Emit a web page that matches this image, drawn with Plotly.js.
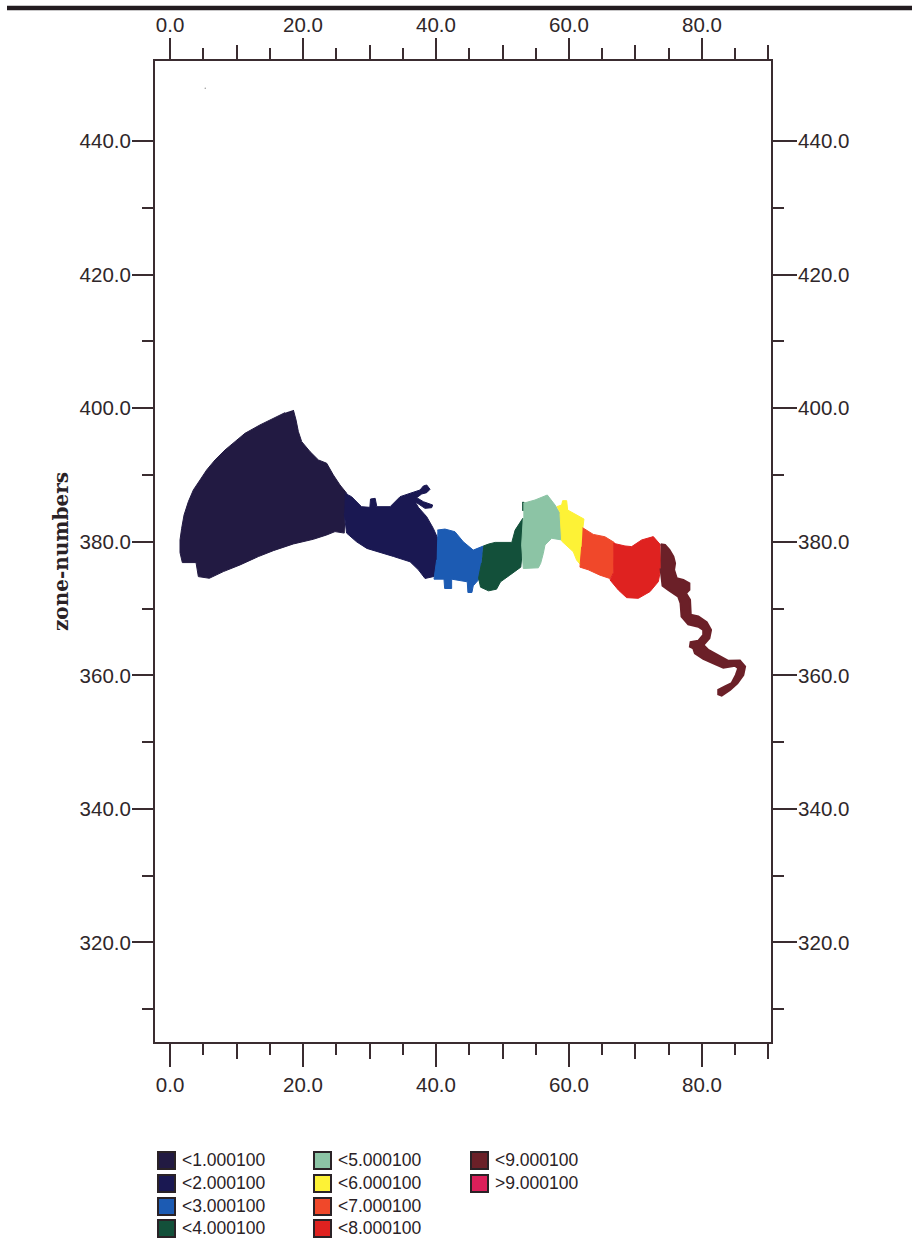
<!DOCTYPE html>
<html><head><meta charset="utf-8">
<script src="https://cdn.plot.ly/plotly-3.0.1.min.js"></script>
<style>html,body{margin:0;padding:0;background:#fff}</style></head>
<body><div id="chart" style="width:912px;height:1241px"></div>
<script>
const legendLabels = ["<1.000100","<2.000100","<3.000100","<4.000100","<5.000100","<6.000100","<7.000100","<8.000100","<9.000100",">9.000100"];
const zoneColors = ["#221a42","#1a1852","#1c5bb3","#13503a","#8cc4a5","#fdf236","#f0482a","#df2220","#6b2028","#dc1f5a"];
const zoneEdgeWidths = [1,1,1,1,1,1,1,1,2.2,1];

const zone1x = [18.55,18.95,19.3,19.8,21.05,22.31,23.56,24.56,25.56,26.57,26.3,26.2,24.81,23.56,21.55,18.55,15.54,13.28,10.53,8.02,5.91,4.26,3.91,1.85,1.5,1.5,1.75,2.11,2.76,3.51,4.51,5.51,6.77,8.27,9.77,11.28,13.53,15.54,17.29];
const zone1y = [399.73,398.24,396.49,394.99,393.5,392.25,391.75,390.0,388.5,387.26,384.25,381.3,381.52,381.02,380.37,379.67,378.67,377.78,376.53,375.53,374.53,374.78,376.88,376.88,378.38,380.27,382.02,384.01,386.01,387.76,389.25,390.75,392.25,393.74,394.99,396.24,397.49,398.49,399.33];
const zone2x = [26.3,27.3,28.8,30.05,30.15,30.85,31.1,33.1,34.6,35.85,37.6,38.1,38.6,39.1,38.6,37.85,37.1,38.1,39.5,39.35,38.35,36.85,37.35,38.6,39.6,40.35,40.5,39.7,38.35,37.35,36.1,33.6,31.1,29.6,28.05,26.55,26.2];
const zone2y = [387.25,386.75,385.25,385.15,386.4,386.5,385.25,385.25,386.75,387.15,387.75,388.35,388.5,387.85,387.35,387.15,386.6,386.0,385.5,385.1,385.0,386.0,385.15,383.75,382.0,380.3,378.3,374.8,374.5,375.8,377.0,377.8,378.5,379.0,380.0,381.3,384.25];
const zone3x = [40.2,41.35,42.85,44.1,45.6,47.1,46.85,46.4,45.6,45.4,44.8,44.7,42.35,42.35,41.3,41.2,39.7,40.1];
const zone3y = [381.75,381.9,381.5,380.0,378.75,379.35,376.8,374.3,373.4,372.4,372.4,374.0,374.4,373.0,373.0,374.4,374.4,377.3];
const zone4x = [47.1,47.9,48.9,51.4,51.9,53.05,53.05,52.75,51.1,49.7,49.1,47.9,46.7,46.4,46.85,null,52.95,53.25,53.25,52.95];
const zone4y = [379.35,379.65,379.9,379.9,381.75,383.5,379.3,376.2,375.0,374.0,372.9,372.65,373.2,374.55,376.8,null,385.9,385.9,384.7,384.7];
const zone5x = [53.13,54.89,56.74,57.9,58.65,58.9,57.4,56.39,56.14,55.74,55.39,53.13,52.88,53.13];
const zone5y = [385.76,386.25,387.0,385.5,384.26,380.27,380.52,379.52,378.27,376.77,376.1,376.0,379.52,383.51];
const zone6x = [58.15,58.9,59.05,59.65,59.8,62.25,62.05,61.8,61.15,60.65,58.9,58.65];
const zone6y = [385.25,385.5,386.15,386.15,384.75,383.4,381.75,376.5,377.25,378.5,380.1,384.26];
const zone7x = [62.05,63.65,65.4,66.8,66.65,66.15,64.65,62.9,61.65,61.9];
const zone7y = [382.1,381.1,380.75,379.9,375.3,374.5,375.0,375.8,376.2,379.25];
const zone8x = [66.67,68.42,69.43,70.93,72.68,73.69,73.8,73.44,72.18,70.43,68.67,67.42,66.17,66.65];
const zone8y = [379.77,379.37,379.27,380.27,380.77,379.62,376.0,374.03,372.53,371.53,371.63,372.78,374.28,375.3];
const zone9x = [73.78,74.44,75.09,75.69,75.94,75.79,76.19,77.19,78.09,78.09,77.59,78.19,78.3,79.45,80.7,81.35,81.1,80.2,80.95,82.45,83.96,85.7,86.47,86.2,85.31,84.21,82.96,82.46,82.46,83.46,84.46,85.11,85.46,84.96,83.21,81.7,80.2,78.95,78.7,78.2,78.3,79.45,80.2,80.2,79.45,77.94,76.94,76.79,76.44,74.94,74.08,73.78];
const zone9y = [379.62,379.52,378.77,377.78,376.78,375.78,374.53,374.28,373.78,372.79,372.29,371.29,369.04,368.8,367.95,366.8,365.55,364.55,363.8,362.95,362.16,362.2,361.3,360.06,358.8,357.82,356.97,357.17,357.82,358.32,358.8,360.06,361.06,361.46,361.16,361.8,362.46,363.3,364.05,364.3,364.95,365.15,366.05,366.8,367.3,367.65,368.8,370.79,371.79,372.79,373.43,376.03];
const zone10x = [];
const zone10y = [];
const specX = [5.3];
const specY = [447.9];

const xMediumTicks = [10,30,50,70,90];
const yMinorTicks = [310,330,350,370,390,410,430];

const W = 912, H = 1241, L = 155, R = 771, T = 61, B = 1042;
const ink = "#3a2c30";
const xRange = [-2.26, 90.38], yRange = [305.1, 451.98];
const tickFont = {family:"Liberation Sans", size:20.5, color:"#2f272a"};

const zones = [[zone1x,zone1y],[zone2x,zone2y],[zone3x,zone3y],[zone4x,zone4y],[zone5x,zone5y],[zone6x,zone6y],[zone7x,zone7y],[zone8x,zone8y],[zone9x,zone9y],[zone10x,zone10y]];
const traces = zones.map((z,i)=>({x:z[0],y:z[1],type:"scatter",mode:"lines",fill:"toself",fillcolor:zoneColors[i],line:{color:zoneColors[i],width:zoneEdgeWidths[i]},name:legendLabels[i],showlegend:false,hoverinfo:"name"}));
traces.push({x:specX,y:specY,type:"scatter",mode:"markers",marker:{size:1.5,color:"#999"},showlegend:false,hoverinfo:"skip"});
[["x2","y2"],["x3","y"],["x4","y"]].forEach(a=>traces.push({x:[null],y:[null],xaxis:a[0],yaxis:a[1],type:"scatter",mode:"markers",showlegend:false,hoverinfo:"skip"}));

const baseX = {range:xRange,showgrid:false,zeroline:false,showline:true,linecolor:ink,linewidth:2,ticks:"outside",tickcolor:ink,tickwidth:2,tickmode:"linear",tick0:0,dtick:20,tickformat:".1f",tickfont:tickFont,
  minor:{tickmode:"linear",tick0:0,dtick:5,ticks:"outside",ticklen:11,tickcolor:ink,tickwidth:2,showgrid:false}};
const baseY = {range:yRange,showgrid:false,zeroline:false,showline:true,linecolor:ink,linewidth:2,ticks:"outside",tickcolor:ink,tickwidth:2,tickmode:"linear",tick0:0,dtick:20,tickformat:".1f",tickfont:tickFont,ticklabelstandoff:-3,
  minor:{tickmode:"array",tickvals:yMinorTicks,ticks:"outside",ticklen:11,tickcolor:ink,tickwidth:2,showgrid:false}};
const medium = (side,len,anchorY)=>({range:xRange,overlaying:"x",side:side,anchor:anchorY,showgrid:false,zeroline:false,showline:false,showticklabels:false,ticks:"outside",ticklen:len,tickwidth:2,tickcolor:ink,tickmode:"array",tickvals:xMediumTicks});

const px = v=>(v-L)/(R-L), py = v=>(B-v)/(B-T);
const shapes = [{type:"line",xref:"paper",yref:"paper",x0:px(7),x1:px(912),y0:py(8),y1:py(8),line:{color:"#231c20",width:4.5}}];
const annotations = [];
const colX = [158,314,471], rowY = [1152,1175,1198,1220];
const cols = [[0,1,2,3],[4,5,6,7],[8,9]];
cols.forEach((c,ci)=>c.forEach((zi,ri)=>{
  shapes.push({type:"rect",xref:"paper",yref:"paper",x0:px(colX[ci]),x1:px(colX[ci]+17),y0:py(rowY[ri]),y1:py(rowY[ri]+17),fillcolor:zoneColors[zi],line:{color:"#2a2226",width:2}});
  annotations.push({xref:"paper",yref:"paper",x:px(colX[ci]+23),y:py(rowY[ri]+8),xanchor:"left",yanchor:"middle",showarrow:false,text:legendLabels[zi].replace("<","&lt;").replace(">","&gt;"),font:{family:"Liberation Sans",size:17.5,color:"#2a2226"},borderpad:0});
}));

const layout = {width:W,height:H,margin:{l:L,r:W-R,t:T,b:H-B,pad:0},paper_bgcolor:"#fff",plot_bgcolor:"#fff",showlegend:false,
  xaxis:Object.assign({},baseX,{side:"bottom",ticklen:23,anchor:"y"}),
  xaxis2:Object.assign({},baseX,{side:"top",overlaying:"x",anchor:"y2",ticklen:21,ticklabelstandoff:-2}),
  xaxis3:medium("bottom",16,"y"),
  xaxis4:medium("top",15,"y"),
  yaxis:Object.assign({},baseY,{side:"left",ticklen:21,anchor:"x",title:{text:"zone-numbers",standoff:6,font:{family:"DejaVu Serif",size:20,weight:700,color:"#2a2226"}}}),
  yaxis2:Object.assign({},baseY,{side:"right",overlaying:"y",anchor:"x2",ticklen:24}),
  shapes:shapes,annotations:annotations};
Plotly.newPlot("chart",traces,layout,{displayModeBar:false,staticPlot:true});
</script></body></html>
